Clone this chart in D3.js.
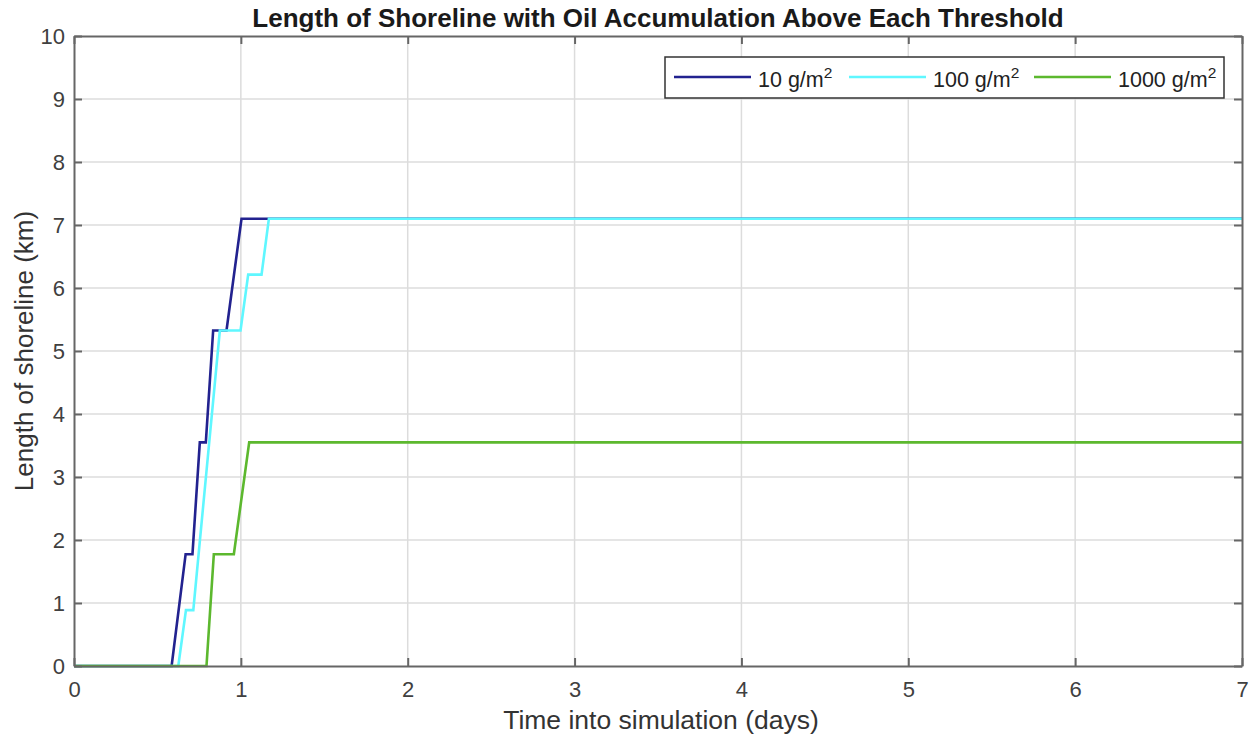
<!DOCTYPE html>
<html>
<head>
<meta charset="UTF-8">
<title>Shoreline oil accumulation</title>
<script src="https://d3js.org/d3.v7.min.js"></script>
<style>
  body { margin: 0; background: #fff; }
  svg { font-family: "Liberation Sans", Arial, sans-serif; }
  .grid line { stroke: #dcdcdc; stroke-width: 1.5; }
  .tick text { fill: #404040; font-size: 22px; }
</style>
</head>
<body>
<svg width="1258" height="740"></svg>
<script>
// step curves: [days, km]
const series10 = [[0, 0], [0.585, 0], [0.669, 1.775], [0.71, 1.775], [0.754, 3.55], [0.79, 3.55],
  [0.834, 5.325], [0.914, 5.325], [1.004, 7.1], [7, 7.1]];
const series100 = [[0, 0], [0.625, 0], [0.671, 0.8875], [0.715, 0.8875], [0.874, 5.325], [0.998, 5.325],
  [1.044, 6.2125], [1.124, 6.2125], [1.168, 7.1], [7, 7.1]];
const series1000 = [[0, 0], [0.794, 0], [0.838, 1.775], [0.958, 1.775], [1.05, 3.55], [7, 3.55]];
const seriesNames = ["10", "100", "1000"];
const seriesColors = ["#22228f", "#5ff7ff", "#5cb82e"];
const xTicks = [0, 1, 2, 3, 4, 5, 6, 7];
const yTicks = [0, 1, 2, 3, 4, 5, 6, 7, 8, 9, 10];

const pLeft = 74, pRight = 1242, pTop = 36, pBottom = 666;
const svg = d3.select("svg");

const x = d3.scaleLinear().domain([0, 7]).range([pLeft, pRight]);
const y = d3.scaleLinear().domain([0, 10]).range([pBottom, pTop]);

// grid
svg.append("g").attr("class", "grid")
  .selectAll("line").data(xTicks.slice(1, -1)).enter().append("line")
  .attr("x1", d => x(d)).attr("x2", d => x(d)).attr("y1", pTop).attr("y2", pBottom);
svg.append("g").attr("class", "grid")
  .selectAll("line").data(yTicks.slice(1, -1)).enter().append("line")
  .attr("x1", pLeft).attr("x2", pRight).attr("y1", d => y(d)).attr("y2", d => y(d));

// lines
const line = d3.line().x(d => x(d[0])).y(d => y(d[1]));
const allSeries = [series10, series100, series1000];
svg.append("g").selectAll("path").data(allSeries).enter().append("path")
  .attr("d", line).attr("fill", "none")
  .attr("stroke", (d, i) => seriesColors[i]).attr("stroke-width", 2.6);

// axes (box with mirrored ticks)
const fmt = d3.format("d");
const xAxis = svg.append("g").attr("transform", "translate(0," + pBottom + ")")
  .call(d3.axisBottom(x).tickValues(xTicks).tickFormat(fmt).tickSizeInner(-8).tickSizeOuter(0).tickPadding(15));
const yAxis = svg.append("g").attr("transform", "translate(" + pLeft + ",0)")
  .call(d3.axisLeft(y).tickValues(yTicks).tickFormat(fmt).tickSizeInner(-8).tickSizeOuter(0).tickPadding(9));
const xTop = svg.append("g").attr("transform", "translate(0," + pTop + ")")
  .call(d3.axisTop(x).tickValues(xTicks).tickFormat("").tickSizeInner(-8).tickSizeOuter(0));
const yRight = svg.append("g").attr("transform", "translate(" + pRight + ",0)")
  .call(d3.axisRight(y).tickValues(yTicks).tickFormat("").tickSizeInner(-8).tickSizeOuter(0));
[xAxis, yAxis, xTop, yRight].forEach(a => {
  a.select(".domain").attr("stroke", "#666").attr("stroke-width", 2);
  a.selectAll(".tick line").attr("stroke", "#666").attr("stroke-width", 2);
});

// titles
svg.append("text").attr("x", 658).attr("y", 27).attr("text-anchor", "middle")
  .attr("font-weight", "bold").attr("font-size", 26).attr("fill", "#1a1a1a")
  .text("Length of Shoreline with Oil Accumulation Above Each Threshold");
svg.append("text").attr("x", 661).attr("y", 729).attr("text-anchor", "middle")
  .attr("font-size", 26.5).attr("fill", "#333")
  .text("Time into simulation (days)");
svg.append("text").attr("transform", "translate(33," + ((pTop + pBottom) / 2) + ") rotate(-90)")
  .attr("text-anchor", "middle").attr("font-size", 26).attr("fill", "#333")
  .text("Length of shoreline (km)");

// legend
const lg = svg.append("g");
lg.append("rect").attr("x", 665).attr("y", 57).attr("width", 559).attr("height", 41)
  .attr("fill", "#fff").attr("stroke", "#333").attr("stroke-width", 1.5);
const legX = [674, 849, 1034];
seriesNames.forEach((n, i) => {
  lg.append("line").attr("x1", legX[i]).attr("x2", legX[i] + 77).attr("y1", 77).attr("y2", 77)
    .attr("stroke", seriesColors[i]).attr("stroke-width", 2.6);
  const t = lg.append("text").attr("x", legX[i] + 84).attr("y", 87)
    .attr("font-size", 21.5).attr("fill", "#222");
  t.append("tspan").text(n + " g/m");
  t.append("tspan").attr("dy", -9).attr("font-size", 15.5).text("2");
});
</script>
</body>
</html>
